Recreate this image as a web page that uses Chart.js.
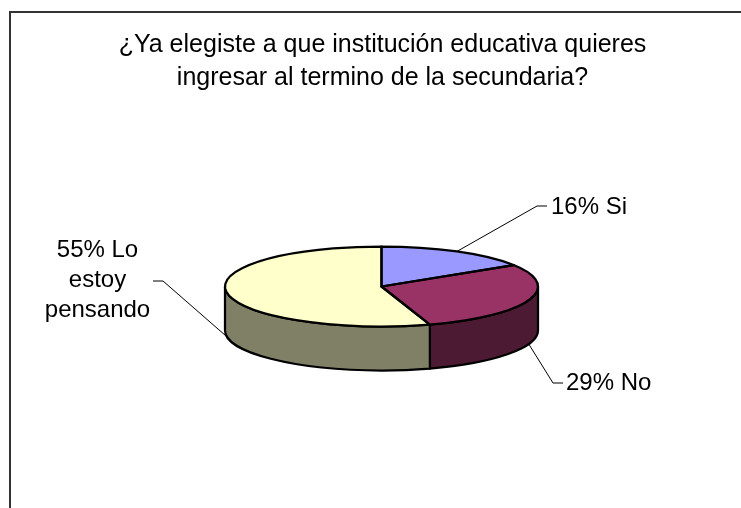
<!DOCTYPE html>
<html>
<head>
<meta charset="utf-8">
<style>
  html, body { margin: 0; padding: 0; background: #fff; overflow: hidden; }
  #wrap { width: 741px; height: 508px; }
</style>
<script src="https://cdn.jsdelivr.net/npm/chart.js@4/dist/chart.umd.min.js"></script>
</head>
<body>
<div id="wrap"><canvas id="chart" width="741" height="508"></canvas></div>
<script>
const categories = ["Si", "No", "Lo estoy pensando"];
const percents = [16, 29, 55];
const topColors = ["#9999ff", "#993366", "#ffffcc"];
const sideColors = ["#4d4d80", "#4d1a33", "#808066"];
const titleLines = ["¿Ya elegiste a que institución educativa quieres", "ingresar al termino de la secundaria?"];

// wrapped text of each pie label
const labelLines = [
  [percents[0] + "% " + categories[0]],
  [percents[1] + "% " + categories[1]],
  [percents[2] + "% Lo", "estoy", "pensando"]
];

// flattening of the pie and its thickness
const squash = 40 / 156.5;
const depth = 44;

// label placement: leader elbow, leader end, and the text baseline
const leaders = [
  { elbow: [537, 206], end: [547, 206], text: [551, 214], align: "left" },
  { elbow: [553, 383], end: [563, 383], text: [566, 390], align: "left" },
  { elbow: [163, 281], end: [153, 281], text: [97.5, 257], align: "center" }
];

function norm(a) {
  return a < -Math.PI / 2 ? a + Math.PI * 2 : a;
}

const pie3d = {
  id: "pie3d",
  beforeDraw(chart) {
    // frame is open on the right and at the bottom
    const ctx = chart.ctx;
    ctx.save();
    ctx.strokeStyle = "#333333";
    ctx.lineWidth = 2;
    ctx.beginPath();
    ctx.moveTo(10, 508);
    ctx.lineTo(10, 12);
    ctx.lineTo(741, 12);
    ctx.stroke();
    ctx.restore();
  },
  beforeDatasetDraw(chart) {
    const ctx = chart.ctx;
    const arcs = chart.getDatasetMeta(0).data;
    // side wall first, only the part of each slice that faces down
    ctx.save();
    ctx.lineWidth = 2.25;
    ctx.strokeStyle = "#000";
    ctx.lineJoin = "round";
    arcs.forEach((arc, i) => {
      const a0 = Math.max(norm(arc.startAngle), 0);
      const a1 = Math.min(norm(arc.startAngle) + (arc.endAngle - arc.startAngle), Math.PI);
      if (a1 <= a0) return;
      const r = arc.outerRadius;
      ctx.beginPath();
      ctx.ellipse(arc.x, arc.y, r, r * squash, 0, a0, a1);
      ctx.ellipse(arc.x, arc.y + depth, r, r * squash, 0, a1, a0, true);
      ctx.closePath();
      ctx.fillStyle = sideColors[i];
      ctx.fill();
      ctx.stroke();
    });
    ctx.restore();
    // flatten the top face
    const first = arcs[0];
    ctx.save();
    ctx.translate(0, first.y);
    ctx.scale(1, squash);
    ctx.translate(0, -first.y);
  },
  afterDatasetDraw(chart) {
    const ctx = chart.ctx;
    ctx.restore();
    const arcs = chart.getDatasetMeta(0).data;
    // outline drawn here so the flattening does not thin it
    ctx.save();
    ctx.lineWidth = 2.25;
    ctx.strokeStyle = "#000";
    ctx.lineJoin = "round";
    arcs.forEach(arc => {
      const r = arc.outerRadius;
      ctx.beginPath();
      ctx.moveTo(arc.x, arc.y);
      ctx.ellipse(arc.x, arc.y, r, r * squash, 0, arc.startAngle, arc.endAngle);
      ctx.closePath();
      ctx.stroke();
    });
    ctx.restore();
  },
  afterDraw(chart) {
    const ctx = chart.ctx;
    const arcs = chart.getDatasetMeta(0).data;
    ctx.save();
    ctx.fillStyle = "#000";
    ctx.strokeStyle = "#000";
    ctx.textBaseline = "alphabetic";
    ctx.font = "25px 'Liberation Sans'";
    ctx.textAlign = "center";
    titleLines.forEach((t, k) => ctx.fillText(t, 382.5, 52 + k * 32.5));
    ctx.font = "24px 'Liberation Sans'";
    ctx.lineWidth = 1;
    arcs.forEach((arc, i) => {
      const l = leaders[i];
      // leader starts at the middle of the slice, on the lower rim for front slices
      const mid = (arc.startAngle + arc.endAngle) / 2;
      const drop = Math.sin(mid) > 0 ? depth : 0;
      ctx.beginPath();
      ctx.moveTo(arc.x + Math.cos(mid) * arc.outerRadius, arc.y + Math.sin(mid) * arc.outerRadius * squash + drop);
      ctx.lineTo(l.elbow[0], l.elbow[1]);
      ctx.lineTo(l.end[0], l.end[1]);
      ctx.stroke();
      ctx.textAlign = l.align;
      labelLines[i].forEach((t, k) => ctx.fillText(t, l.text[0], l.text[1] + k * 30));
    });
    ctx.restore();
  }
};

new Chart(document.getElementById("chart"), {
  type: "pie",
  data: {
    labels: categories,
    datasets: [{
      data: percents,
      backgroundColor: topColors,
      borderWidth: 0
    }]
  },
  plugins: [pie3d],
  options: {
    responsive: false,
    animation: false,
    events: [],
    layout: { padding: { left: 225, right: 203, top: 130, bottom: 65 } },
    plugins: {
      legend: { display: false },
      tooltip: { enabled: false },
      title: { display: false }
    }
  }
});
</script>
</body>
</html>
